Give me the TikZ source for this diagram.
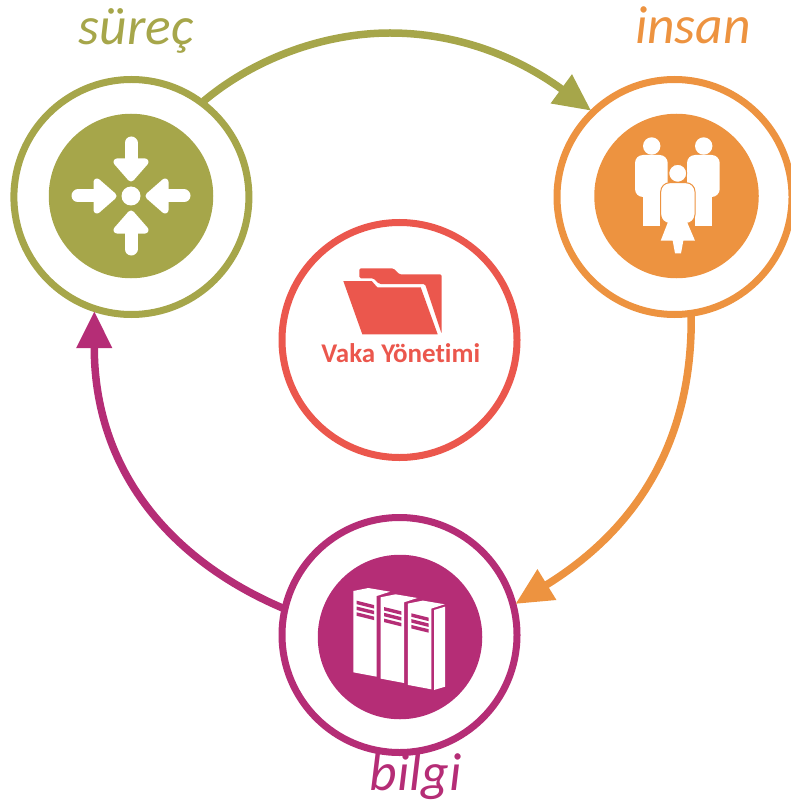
\documentclass[tikz,border=0pt]{standalone}
\usepackage{fontspec}
\setmainfont[Ligatures=NoCommon]{Carlito}
\usetikzlibrary{arrows.meta}
\definecolor{cOlive}{HTML}{A6A64A}
\definecolor{cOrange}{HTML}{ED9340}
\definecolor{cMag}{HTML}{B52D76}
\definecolor{cRed}{HTML}{EB574D}
\tikzset{
  ring/.style={circle,draw=#1,line width=7pt,minimum size=235pt,inner sep=0pt,outer sep=2.5pt},
  disk/.style={circle,fill=#1,minimum size=164.5pt,inner sep=0pt,outer sep=0pt},
  flow/.style={draw=#1,line width=7.5pt,-{Triangle[length=37pt,width=34pt,fill=#1]}},
  lab/.style={text=#1,anchor=base,font=\fontsize{53.5}{54}\selectfont\itshape,inner sep=0pt},
}
\begin{document}
\begin{tikzpicture}[x=1pt,y=-1pt]
\useasboundingbox (0,0) rectangle (790,802);
% rings
\node[ring=cOlive]  (surec)  at (131.4,197) {};
\node[ring=cOrange] (insan)  at (674.5,197) {};
\node[ring=cMag]    (bilgi)  at (399.5,635) {};
\node[ring=cRed]    (vaka)   at (399.5,340) {};
\node[disk=cOlive]  (surecd) at (131,196) {};
\node[disk=cOrange] (insand) at (676.5,196) {};
\node[disk=cMag]    (bilgid) at (400,637) {};
% connectors
\path[flow=cOlive] (surec.53) .. controls (255,58) and (325,33) .. (390,33)
   .. controls (455,33) and (515,55) .. (insan.134);
\path[flow=cOrange] (insan.-82) .. controls (692,400) and (668,510) .. (bilgi.15);
\path[flow=cMag] (bilgi.167) .. controls (170,560) and (94,470) .. (surec.252);
% labels
\node[lab=cOlive]  (lsurec) at (136,45) {süreç};
\node[lab=cOrange] (linsan) at (693,43.5) {insan};
\node[lab=cMag]    (lbilgi) at (415.5,790) {bilgi};
\node[text=cRed,anchor=base,inner sep=0pt,font=\fontsize{27}{27}\selectfont\bfseries] (lvaka) at (400.8,362.7) {Vaka Yönetimi};
% process icon
\begin{scope}[shift={(131,196)}]
  \fill[white] (0,0) circle (9.5);
  \foreach \a in {0,90,180,270}{
    \begin{scope}[rotate=\a]
      \draw[white,line width=13pt,line cap=round] (0,-53) -- (0,-30);
      \filldraw[white,line width=7pt,line join=round] (-14,-34) -- (14,-34) -- (0,-18) -- cycle;
    \end{scope}
  }
\end{scope}
% people icon
\foreach \dx in {0,52}{
  \begin{scope}[shift={(\dx,0)}]
    \fill[white] (651.7,146) circle (8.7);
    \fill[white,rounded corners=8pt] (635,155) rectangle (667.7,197);
    \fill[white] (642.7,170) rectangle (660,226);
  \end{scope}
}
\filldraw[fill=white,draw=cOrange,line width=1pt] (677.7,173.3) circle (9);
\filldraw[fill=white,draw=cOrange,line width=1pt,rounded corners=9pt] (660.7,182.7) rectangle (695,223.5);
\fill[white] (668,222) -- (687,222) -- (695,240.7) -- (683.3,240.7) -- (681,253.3) -- (675,253.3) -- (672.7,240.7) -- (660.7,240.7) -- cycle;
% binders icon
\foreach \k in {0,1,2}{
  \begin{scope}[shift={({\k*27.3},{\k*6.3})}]
    \fill[white] (353.3,591) -- (368.3,588) -- (390,591.7) -- (376.7,596) -- (376.7,676.7) -- (353.3,672.3) -- cycle;
    \foreach \j in {0,1,2}{
      \fill[cMag] (356.7,{600.7+\j*5.8}) -- (374,{605+\j*5.8}) -- (374,{608.5+\j*5.8}) -- (356.7,{604.2+\j*5.8}) -- cycle;
    }
  \end{scope}
}
\fill[white] (434,610) -- (445,606.7) -- (445,686.7) -- (434,690) -- cycle;
% folder icon
\fill[cRed,rounded corners=1.5pt] (359.3,278.3) -- (359.3,268.3) -- (393.3,268.3) -- (399.3,274.3) -- (441.7,274.3) -- (441.7,334) -- (425,284) -- (379.3,284) -- (373.3,278.3) -- cycle;
\fill[cRed] (343.3,281) -- (371.7,281) -- (377.3,287.3) -- (420.7,287.3) -- (437.7,334.3) -- (362.3,334.3) -- cycle;
\end{tikzpicture}
\end{document}
